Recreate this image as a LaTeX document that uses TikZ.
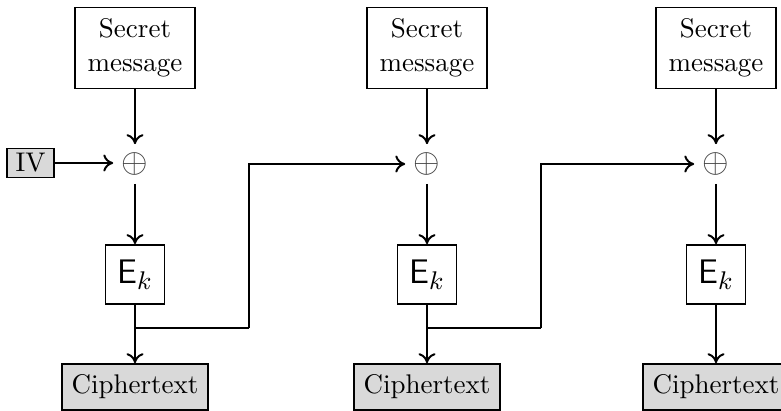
\documentclass[tikz,border=0pt]{standalone}
\usetikzlibrary{arrows.meta}
\begin{document}
\begin{tikzpicture}[x=0.352pt,y=-0.352pt,
  font=\fontsize{9.5}{12}\selectfont,
  box/.style={draw, line width=0.6pt, inner sep=0pt, align=center},
  msgbox/.style={box, minimum width=42.2pt, minimum height=28.5pt},
  encbox/.style={box, minimum width=20.8pt, minimum height=20.8pt, font=\fontsize{12.5}{14}\selectfont},
  ivbox/.style={box, fill=black!15, minimum width=16.5pt, minimum height=10.2pt},
  ctbox/.style={box, fill=black!15, minimum width=51.4pt, minimum height=16.2pt},
  xorsym/.style={inner sep=2.8pt, text=black!75, font=\fontsize{13}{13}\selectfont},
  flow/.style={line width=0.7pt, -{To[length=3.5pt,width=6pt]}},
  wire/.style={line width=0.7pt}
]
\useasboundingbox (0,0) rectangle (781,411);

% three CBC stages
\foreach \i/\x in {1/135, 2/427, 3/716} {
  \node[msgbox] (msg\i) at (\x,48) {Secret\\message};
  \node[xorsym] (xor\i) at (\x,164) {$\oplus$};
  \node[encbox] (enc\i) at (\x,274.5) {$\mathsf{E}_k$};
  \node[ctbox]  (ct\i)  at (\x,387) {Ciphertext};
  \draw[flow] (msg\i) -- (xor\i);
  \draw[flow] (xor\i) -- (enc\i);
  \draw[flow] (enc\i) -- (ct\i);
}

% initialisation vector
\node[ivbox] (iv) at (30.5,163) {IV};
\draw[flow] (iv.east) -- (iv.east -| xor1.west);

% chaining of each ciphertext into the next stage
\coordinate (tap1) at (135,328);
\coordinate (tap2) at (427,328);
\coordinate (up1) at (249,328);
\coordinate (up2) at (541,328);
\draw[wire] (tap1) -- (up1);
\draw[flow] (up1) |- (xor2);
\draw[wire] (tap2) -- (up2);
\draw[flow] (up2) |- (xor3);
\end{tikzpicture}
\end{document}
